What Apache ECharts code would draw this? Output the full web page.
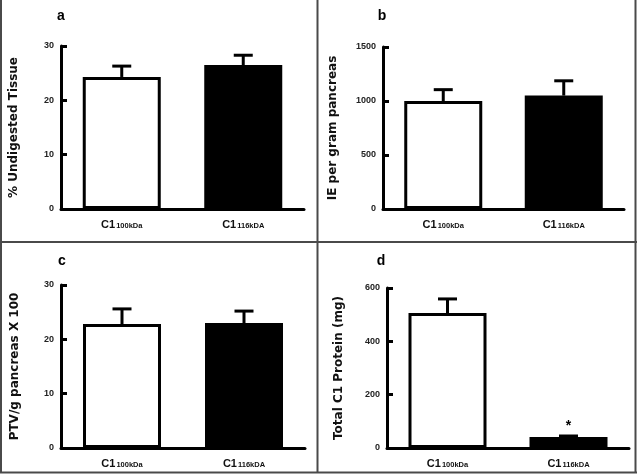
<!DOCTYPE html>
<html>
<head>
<meta charset="utf-8">
<script src="https://cdn.jsdelivr.net/npm/echarts@6/dist/echarts.min.js"></script>
<style>html,body{margin:0;padding:0;background:#fff}#chart{width:637px;height:474px}</style>
</head>
<body>
<div id="chart"></div>
<script>
// Data
const categoryMain = ['C1', 'C1'];
const categorySub = ['100kDa', '116kDA'];
const panelLetters = ['a', 'b', 'c', 'd'];
const yTitles = ['% Undigested Tissue', 'IE per gram pancreas', 'PTV/g pancreas X 100', 'Total C1 Protein (mg)'];
const yMax = [30, 1500, 30, 600];
const yInterval = [10, 500, 10, 200];
const meanA = [24.3, 26.5];
const semA = [2.0, 1.8];
const meanB = [1000, 1050];
const semB = [105, 137];
const meanC = [22.8, 23.0];
const semC = [2.8, 2.2];
const meanD = [506, 41];
const semD = [53, 4];
const sigD = ['', '*'];

const means = [meanA, meanB, meanC, meanD];
const sems = [semA, semB, semC, semD];
const sigs = [null, null, null, sigD];

const FONT = '"Liberation Sans", Arial, sans-serif';
const grids = [
  {left: 61, top: 46, right: 333, bottom: 265},
  {left: 383, top: 47, right: 13, bottom: 265},
  {left: 61, top: 285, right: 332, bottom: 26},
  {left: 387, top: 288, right: 8, bottom: 26}
];
const nameGaps = [41, 44, 40, 42];
const letterPos = [[61, 16], [382, 16], [62, 261], [381, 261]];
const barColors = ['#ffffff', '#000000'];

const xAxes = [], yAxes = [], series = [];
grids.forEach((g, i) => {
  xAxes.push({
    type: 'category', gridIndex: i,
    data: categorySub,
    axisLine: {lineStyle: {color: '#000', width: 3}},
    axisTick: {show: false},
    axisLabel: {
      interval: 0,
      margin: 9,
      formatter: (v, idx) => '{m|' + categoryMain[idx] + '}{s|' + v + '}',
      rich: {
        m: {fontFamily: FONT, fontWeight: 'bold', fontSize: 11, color: '#111', verticalAlign: 'bottom', lineHeight: 12},
        s: {fontFamily: FONT, fontWeight: 'bold', fontSize: 7.5, color: '#111', verticalAlign: 'bottom', lineHeight: 12, padding: [0, 0, 0, 1]}
      }
    }
  });
  yAxes.push({
    type: 'value', gridIndex: i, min: 0, max: yMax[i], interval: yInterval[i],
    name: yTitles[i], nameLocation: 'middle', nameRotate: 90, nameGap: nameGaps[i],
    nameTextStyle: {fontFamily: '"DejaVu Sans", sans-serif', fontWeight: 'bold', fontSize: 12, color: '#111'},
    axisLine: {show: true, lineStyle: {color: '#000', width: 3}},
    axisTick: {show: true, inside: true, length: 6, lineStyle: {color: '#000', width: 3}},
    axisLabel: {fontFamily: FONT, fontWeight: 'bold', fontSize: 9, color: '#222', margin: 7, formatter: v => String(v)},
    splitLine: {show: false}
  });
  const m = means[i];
  series.push({
    type: 'bar', xAxisIndex: i, yAxisIndex: i, barWidth: 78, silent: true,
    data: m.map((v, k) => ({
      value: v,
      itemStyle: {color: barColors[k], borderColor: '#000', borderWidth: 3},
      label: sigs[i] && sigs[i][k] ? {show: true, position: 'top', distance: 4, formatter: sigs[i][k],
        fontFamily: FONT, fontWeight: 'bold', fontSize: 14, color: '#000'} : {show: false}
    })),
    z: 2
  });
  series.push({
    type: 'custom', xAxisIndex: i, yAxisIndex: i, silent: true, z: 3,
    data: m.map((v, k) => [k, v, sems[i][k]]),
    renderItem: (params, api) => {
      const p0 = api.coord([api.value(0), api.value(1)]);
      const p1 = api.coord([api.value(0), api.value(1) + api.value(2)]);
      const hw = 9.5;
      const st = {stroke: '#000', lineWidth: 3};
      return {type: 'group', children: [
        {type: 'line', shape: {x1: p0[0], y1: p0[1], x2: p1[0], y2: p1[1]}, style: st},
        {type: 'line', shape: {x1: p1[0] - hw, y1: p1[1], x2: p1[0] + hw, y2: p1[1]}, style: st}
      ]};
    }
  });
});

const borderStyle = {stroke: '#4a4a4a', lineWidth: 2};
const graphic = [
  {type: 'line', shape: {x1: 1, y1: 0, x2: 1, y2: 473}, style: borderStyle},
  {type: 'line', shape: {x1: 635.5, y1: 0, x2: 635.5, y2: 473}, style: borderStyle},
  {type: 'line', shape: {x1: 0, y1: 472.5, x2: 637, y2: 472.5}, style: borderStyle},
  {type: 'line', shape: {x1: 317.5, y1: 0, x2: 317.5, y2: 473}, style: borderStyle},
  {type: 'line', shape: {x1: 0, y1: 242, x2: 637, y2: 242}, style: borderStyle}
];
panelLetters.forEach((t, i) => {
  graphic.push({type: 'text', x: letterPos[i][0], y: letterPos[i][1],
    style: {text: t, fontFamily: FONT, fontWeight: 'bold', fontSize: 14, fill: '#000', textAlign: 'center', textVerticalAlign: 'middle'}});
});

const chart = echarts.init(document.getElementById('chart'), null, {renderer: 'canvas'});
chart.setOption({
  animation: false,
  backgroundColor: '#fff',
  grid: grids,
  xAxis: xAxes,
  yAxis: yAxes,
  series: series,
  graphic: graphic
});
</script>
</body>
</html>
